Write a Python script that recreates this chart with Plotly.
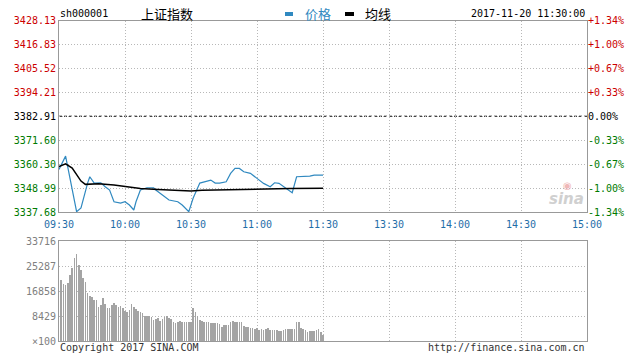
import plotly.graph_objects as go

W, H = 638, 359

# ---------------- data ----------------
PREV_CLOSE = 3382.91
price_ticks = [3428.13, 3416.83, 3405.52, 3394.21, 3382.91, 3371.60, 3360.30, 3348.99, 3337.68]
pct_labels = ["+1.34%", "+1.00%", "+0.67%", "+0.33%", "0.00%", "-0.33%", "-0.67%", "-1.00%", "-1.34%"]
time_labels = ["09:30", "10:00", "10:30", "11:00", "11:30", "13:30", "14:00", "14:30", "15:00"]
vol_ticks = [0, 8429, 16858, 25287, 33716]
vol_labels = ["×100", "8429", "16858", "25287", "33716"]

price_times = ["09:30", "09:33", "09:38", "09:40", "09:43", "09:44", "09:46", "09:49", "09:51",
               "09:53", "09:55", "09:58", "10:00", "10:02", "10:04", "10:05", "10:07", "10:10",
               "10:13", "10:14", "10:17", "10:20", "10:24", "10:26", "10:29", "10:31", "10:34",
               "10:36", "10:39", "10:41", "10:43", "10:46", "10:48", "10:50", "10:52", "10:54",
               "10:57", "11:00", "11:03", "11:06", "11:08", "11:10", "11:13", "11:16", "11:18",
               "11:21", "11:24", "11:26", "11:30"]
price_vals = [3357.80, 3364.07, 3337.82, 3339.57, 3351.35, 3354.32, 3351.35, 3351.49, 3349.60,
              3348.05, 3342.53, 3341.92, 3342.53, 3340.98, 3338.62, 3342.53, 3348.05, 3349.13,
              3349.13, 3348.05, 3345.69, 3343.34, 3342.53, 3340.98, 3337.82, 3344.28, 3351.35,
              3351.96, 3352.76, 3351.35, 3351.35, 3351.96, 3355.92, 3358.27, 3358.27, 3356.67,
              3355.92, 3353.56, 3351.20, 3349.60, 3351.49, 3351.20, 3348.85, 3346.78, 3354.32,
              3354.32, 3354.65, 3355.12, 3355.12]

avg_times = ["09:30", "09:33", "09:36", "09:38", "09:40", "09:42", "09:48", "09:55", "10:00",
             "10:07", "10:15", "10:22", "10:30", "10:35", "10:50", "11:05", "11:15", "11:30"]
avg_vals = [3359.12, 3360.39, 3358.42, 3355.12, 3352.29, 3350.73, 3350.97, 3350.40, 3349.70,
            3348.75, 3348.28, 3348.05, 3347.58, 3347.91, 3348.28, 3348.52, 3348.75, 3348.85]

# volume (x100), one bar per minute from 09:31 to 11:30
volume = [20567, 19110, 18881, 19442, 22253, 24505, 27877, 29222, 25624, 23938,
          21130, 19780, 16070, 15280, 14940, 13824, 13824, 11570, 12138, 14600,
          12475, 11230, 11230, 12138, 12812, 12138, 11570, 11800, 11230, 10115,
          9660, 10452, 12360, 11350, 10789, 10115, 9890, 9330, 8540, 8540,
          8429, 8092, 7080, 7418, 7755, 6743, 7418, 8205, 8320, 7870,
          7530, 6517, 6180, 6517, 6743, 6517, 6517, 6517, 6517, 6517,
          11230, 9660, 8540, 7080, 6743, 6517, 6293, 6293, 5957, 6180,
          5957, 6180, 5619, 4833, 5395, 5395, 5395, 6517, 6743, 6517,
          6517, 6517, 6293, 5170, 4833, 4833, 4496, 4271, 4046, 4271,
          3821, 4046, 3821, 4046, 4271, 3709, 3709, 3709, 3709, 3372,
          3372, 3709, 3933, 4046, 4046, 3933, 4046, 6293, 6517, 4496,
          4046, 3821, 3147, 3372, 3259, 3259, 3709, 4046, 2922, 2023]


def to_min(t):
    h, m = map(int, t.split(":"))
    tot = h * 60 + m - (9 * 60 + 30)
    if tot > 120:  # afternoon session
        tot -= 90
    return tot


tick_x = [to_min(t) if t != "11:30" else 120 for t in time_labels]
px_ = [to_min(t) for t in price_times]
ax_ = [to_min(t) for t in avg_times]
vx_ = [i + 1 for i in range(len(volume))]

RED, GREEN, BLACK = "#cc0000", "#007a00", "#000000"


def col_for(v):
    if v > PREV_CLOSE + 0.001:
        return RED
    if v < PREV_CLOSE - 0.001:
        return GREEN
    return BLACK


left_text = [f'<span style="color:{col_for(v)}">{v:.2f}</span>' for v in price_ticks]
right_text = [f'<span style="color:{col_for(v)}">{s}</span>' for v, s in zip(price_ticks, pct_labels)]


def PX(x):
    return x / W


def PY(y):
    return 1 - y / H


X0, X1 = 59, 587
P_T, P_B = 20.5, 212
V_T, V_B = 241, 341

MONO = "DejaVu Sans Mono"
CJK = "Noto Sans CJK SC"
BLUE = "#3089c0"

fig = go.Figure()
fig.add_trace(go.Scatter(x=px_, y=price_vals, mode="lines", line=dict(color=BLUE, width=1.2),
                         xaxis="x", yaxis="y", showlegend=False, hoverinfo="skip"))
fig.add_trace(go.Scatter(x=ax_, y=avg_vals, mode="lines", line=dict(color="#000000", width=1.5),
                         xaxis="x", yaxis="y", showlegend=False, hoverinfo="skip"))
fig.add_trace(go.Scatter(x=px_, y=price_vals, mode="lines", line=dict(color="rgba(0,0,0,0)", width=0),
                         xaxis="x", yaxis="y2", showlegend=False, hoverinfo="skip"))
fig.add_trace(go.Bar(x=vx_, y=volume, width=0.36, marker=dict(color="#a4a4a4", line=dict(width=0)),
                     xaxis="x2", yaxis="y3", showlegend=False, hoverinfo="skip"))

grid = dict(showgrid=True, gridcolor="#b8b8b8", griddash="1px,2px", gridwidth=1, automargin=False,
            showline=True, linecolor="#999999", linewidth=1, mirror=True, zeroline=False, ticks="")

fig.update_layout(
    width=W, height=H, margin=dict(l=0, r=0, t=0, b=0),
    paper_bgcolor="white", plot_bgcolor="white",
    font=dict(family=MONO, size=10),
    xaxis=dict(domain=[PX(X0), PX(X1)], range=[0, 240], tickmode="array", tickvals=tick_x,
               ticktext=time_labels, tickfont=dict(color="#1f6ea8", size=10), anchor="y",
               ticklabelstandoff=3, **grid),
    yaxis=dict(domain=[PY(P_B), PY(P_T)], range=[price_ticks[-1], price_ticks[0]], tickmode="array",
               tickvals=price_ticks, ticktext=left_text, tickfont=dict(size=10), anchor="x", **grid),
    yaxis2=dict(overlaying="y", side="right", range=[price_ticks[-1], price_ticks[0]], tickmode="array",
                tickvals=price_ticks, ticktext=right_text, tickfont=dict(size=10), showgrid=False,
                zeroline=False, ticks="", anchor="x", automargin=False),
    xaxis2=dict(domain=[PX(X0), PX(X1)], range=[0, 240], tickmode="array", tickvals=tick_x,
                showticklabels=False, anchor="y3", **grid),
    yaxis3=dict(domain=[PY(V_B), PY(V_T)], range=[0, vol_ticks[-1]], tickmode="array", tickvals=vol_ticks,
                ticktext=vol_labels, tickfont=dict(color="#808080", size=10), anchor="x2", **grid),
    bargap=0,
)

# previous close reference line
fig.add_shape(type="line", xref="x", yref="y", x0=0, x1=240, y0=PREV_CLOSE, y1=PREV_CLOSE,
              line=dict(color="#000000", width=1, dash="3px,2px"), layer="below")

# legend dashes
fig.add_shape(type="rect", xref="paper", yref="paper", x0=PX(285), x1=PX(293), y0=PY(16), y1=PY(12),
              fillcolor=BLUE, line=dict(width=0))
fig.add_shape(type="rect", xref="paper", yref="paper", x0=PX(345), x1=PX(354), y0=PY(16), y1=PY(12),
              fillcolor="#000000", line=dict(width=0))

ann = [
    dict(text="sh000001", x=PX(58), y=PY(14), xanchor="left", font=dict(family=MONO, size=10, color="#000")),
    dict(text="上证指数", x=PX(139), y=PY(14), xanchor="left", font=dict(family=CJK, size=13, color="#000")),
    dict(text="价格", x=PX(303), y=PY(14), xanchor="left", font=dict(family=CJK, size=13, color=BLUE)),
    dict(text="均线", x=PX(363), y=PY(14), xanchor="left", font=dict(family=CJK, size=13, color="#000")),
    dict(text="2017-11-20 11:30:00", x=PX(587), y=PY(14), xanchor="right",
         font=dict(family=MONO, size=10, color="#000")),
    dict(text="Copyright 2017 SINA.COM", x=PX(58), y=PY(347), xanchor="left",
         font=dict(family=MONO, size=10, color="#333")),
    dict(text="http://finance.sina.com.cn", x=PX(587), y=PY(347), xanchor="right",
         font=dict(family=MONO, size=10, color="#333")),
    dict(text="<b><i>sina</i></b>", x=PX(566), y=PY(199), xanchor="center",
         font=dict(family="DejaVu Sans", size=15, color="#d0d0d0")),
    dict(text="◉", x=PX(567), y=PY(186), xanchor="center",
         font=dict(family="DejaVu Sans", size=10, color="#f0b8b8")),
]
for a in ann:
    a.update(xref="paper", yref="paper", yanchor="middle", showarrow=False)
    fig.add_annotation(**a)

fig.write_html("out.html", config={"displayModeBar": False},
               post_script="document.body.style.margin='0';")
